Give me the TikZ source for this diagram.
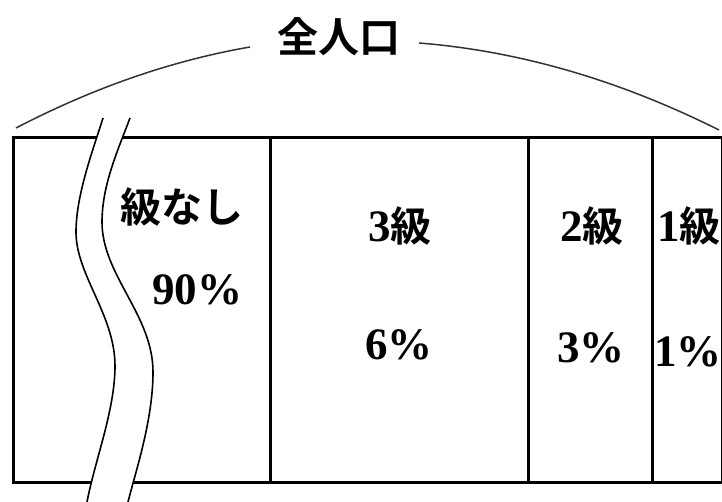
\documentclass[tikz,border=0pt]{standalone}
\usepackage{fontspec}
\setmainfont{Liberation Serif}
\newfontfamily\cjk{Noto Sans CJK JP}[BoldFont=Noto Sans CJK JP Bold]
\newcommand{\jp}[1]{{\cjk\fontsize{41}{48}\selectfont #1}}
\begin{document}
\begin{tikzpicture}[x=1pt,y=-1pt,
  lbl/.style={inner sep=0pt, font=\fontsize{45}{50}\selectfont\bfseries},
  frame/.style={line width=3pt, black},
  brk/.style={line width=1.6pt, black},
  arcline/.style={line width=1.5pt, black!80}]
\useasboundingbox (0,0) rectangle (722,502);
% bar
\draw[frame] (13,138) rectangle (722,482);
\draw[frame] (270,138) -- (270,482);
\draw[frame] (528,138) -- (528,482);
\draw[frame] (652,138) -- (652,482);
% break strip
\def\leftc{(103,118) .. controls (93,150) and (76,195) .. (76,232) .. controls (76,275) and (115,315) .. (115,366) .. controls (115,410) and (95,460) .. (87,502)}
\def\rightc{(128,502) .. controls (136,470) and (153,420) .. (153,372) .. controls (153,315) and (102,275) .. (102,222) .. controls (102,185) and (118,150) .. (130,118)}
\fill[white] \leftc -- \rightc -- cycle;
\draw[brk] \leftc;
\draw[brk] \rightc;
% title and arc
\node[lbl] (total) at (339,37) {\jp{全人口}};
\coordinate (L) at (16,128);
\coordinate (al) at (250,47);
\coordinate (ar) at (419,43);
\coordinate (R) at (719,130);
\draw[arcline] (L) .. controls (94,87.5) and (172,60.5) .. (al);
\draw[arcline] (ar) .. controls (519,51) and (619,80) .. (R);
% labels
\node[lbl] (n0) at (182,207) {\jp{級なし}};
\node[lbl] (p0) at (197,290) {90\%};
\node[lbl] (n3) at (400,226) {3\jp{級}};
\node[lbl] (p3) at (399,345) {6\%};
\node[lbl] (n2) at (592,226) {2\jp{級}};
\node[lbl] (p2) at (591,348) {3\%};
\node[lbl] (n1) at (689,226) {1\jp{級}};
\node[lbl] (p1) at (688,352) {1\%};
\end{tikzpicture}
\end{document}
